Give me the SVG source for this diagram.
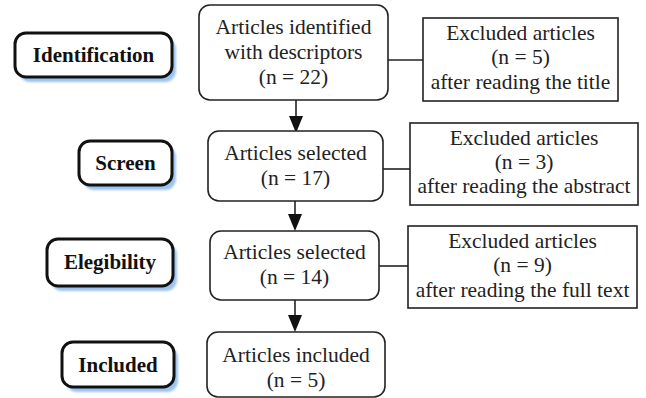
<svg xmlns="http://www.w3.org/2000/svg" width="646" height="398" viewBox="0 0 646 398">
<style>
.lbl{fill:#fff;stroke:#111;stroke-width:3}
.sh{fill:#9cc2ee}
.box{fill:#fff;stroke:#222;stroke-width:1.6}
.ex{fill:#fff;stroke:#222;stroke-width:1.6}
.lt{font-family:"Liberation Serif",serif;font-weight:bold;font-size:21px;fill:#111;text-anchor:middle}
.t{font-family:"Liberation Serif",serif;font-size:21.5px;fill:#222;text-anchor:middle}
.c{stroke:#222;stroke-width:1.6;fill:none}
</style>
<defs>
<filter id="blur" x="-10%" y="-10%" width="130%" height="140%"><feGaussianBlur stdDeviation="1.2"/></filter>
<marker id="ah" markerWidth="14" markerHeight="16" refX="7" refY="16" orient="auto" markerUnits="userSpaceOnUse" viewBox="0 0 14 16">
<path d="M0,0 L14,0 L7,16 Z" fill="#111"/>
</marker>
</defs>
<g id="connectors">
<line class="c" x1="388" y1="60" x2="423" y2="60"/>
<line class="c" x1="383" y1="169" x2="410" y2="169"/>
<line class="c" x1="379" y1="266" x2="408" y2="266"/>
<path d="M296,100 V116" class="c"/><path d="M289,116 H303 L296,133 Z" fill="#111"/>
<path d="M295,201 V214" class="c"/><path d="M288,214 H302 L295,231 Z" fill="#111"/>
<path d="M295,300 V315" class="c"/><path d="M288,315 H302 L295,332 Z" fill="#111"/>
</g>
<g id="label-identification">
<rect class="sh" x="19" y="38" width="157" height="44" rx="11" filter="url(#blur)"/>
<rect class="lbl" x="15" y="33" width="157" height="44" rx="11"/>
<text class="lt" x="93.5" y="62">Identification</text>
</g>
<g id="label-screen">
<rect class="sh" x="83" y="146" width="93" height="44" rx="11" filter="url(#blur)"/>
<rect class="lbl" x="79" y="141" width="93" height="44" rx="11"/>
<text class="lt" x="125.5" y="170">Screen</text>
</g>
<g id="label-elegibility">
<rect class="sh" x="51" y="244" width="126" height="47" rx="11" filter="url(#blur)"/>
<rect class="lbl" x="47" y="239" width="126" height="47" rx="11"/>
<text class="lt" x="110" y="269">Elegibility</text>
</g>
<g id="label-included">
<rect class="sh" x="66" y="347" width="112" height="45" rx="11" filter="url(#blur)"/>
<rect class="lbl" x="62" y="342" width="112" height="45" rx="11"/>
<text class="lt" x="118" y="372">Included</text>
</g>
<g id="box-identified">
<rect class="box" x="199" y="5" width="189" height="95" rx="11"/>
<text class="t" x="293.5" y="34">Articles identified</text>
<text class="t" x="293.5" y="59">with descriptors</text>
<text class="t" x="293.5" y="84">(n = 22)</text>
</g>
<g id="excluded-title">
<rect class="ex" x="423" y="18" width="195" height="83"/>
<text class="t" x="520.5" y="40">Excluded articles</text>
<text class="t" x="520.5" y="64">(n = 5)</text>
<text class="t" x="520.5" y="89">after reading the title</text>
</g>
<g id="box-selected-17">
<rect class="box" x="208" y="131" width="175" height="70" rx="11"/>
<text class="t" x="295.5" y="160">Articles selected</text>
<text class="t" x="295.5" y="185">(n = 17)</text>
</g>
<g id="excluded-abstract">
<rect class="ex" x="410" y="123" width="228" height="82"/>
<text class="t" x="524" y="145">Excluded articles</text>
<text class="t" x="524" y="169">(n = 3)</text>
<text class="t" x="524" y="193">after reading the abstract</text>
</g>
<g id="box-selected-14">
<rect class="box" x="210" y="231" width="169" height="69" rx="11"/>
<text class="t" x="294.5" y="259">Articles selected</text>
<text class="t" x="294.5" y="284">(n = 14)</text>
</g>
<g id="excluded-fulltext">
<rect class="ex" x="408" y="226" width="229" height="82"/>
<text class="t" x="522.5" y="248">Excluded articles</text>
<text class="t" x="522.5" y="272">(n = 9)</text>
<text class="t" x="522.5" y="297">after reading the full text</text>
</g>
<g id="box-included">
<rect class="box" x="207" y="332" width="178" height="65" rx="11"/>
<text class="t" x="296" y="362">Articles included</text>
<text class="t" x="296" y="387">(n = 5)</text>
</g>
</svg>
